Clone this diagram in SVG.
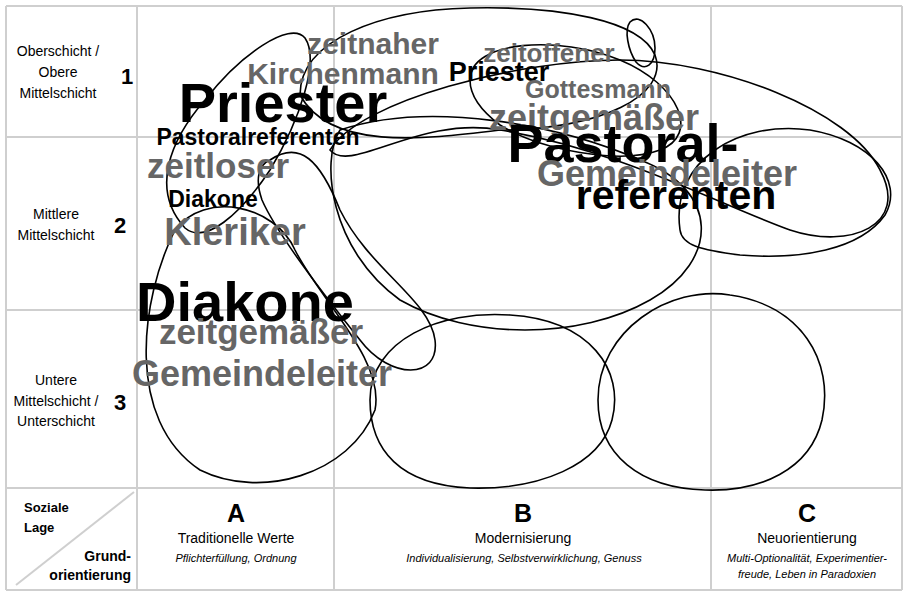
<svg xmlns="http://www.w3.org/2000/svg" width="908" height="594" viewBox="0 0 908 594">
<style>
.g{stroke:#cfcfcf;stroke-width:2;fill:none}
.b{fill:none;stroke:#000;stroke-width:1.6}
text{font-family:"Liberation Sans",Arial,sans-serif;font-weight:bold}
.k{fill:#000}.d{fill:#666}
.n{font-weight:normal;fill:#000}
.i{font-weight:normal;font-style:italic;fill:#000;font-size:11px}
</style>
<rect width="908" height="594" fill="#fff"/>
<g id="grid">
<path class="g" d="M6 6H902M6 137H137M6 310H137M6 488H902M6 590H902M6 6V590M137 6V590M334 488V590M711 488V590M902 6V590M137 137H334M137 310H334"/>
<path class="g" d="M334 6V488M711 6V488M334 137H902M334 310H902" stroke="#e6e6e6"/>
<path class="g" d="M16 585L134 492"/>
</g>
<g id="connectors">
<path class="b" d="M185 228C150 190 170 140 205 100C240 55 290 20 305 38C320 60 300 120 270 170C240 215 205 245 185 228Z"/>
<path class="b" d="M175 230C140 300 125 420 200 470C260 500 350 475 375 410C385 360 320 300 295 250C275 205 205 190 175 230Z"/>
<path class="b" d="M270 160C300 140 320 160 340 210C370 270 430 300 435 340C440 380 390 380 360 340C320 290 275 230 262 200C255 180 258 165 270 160Z"/>
<path class="b" d="M340 130C320 160 330 250 400 300C470 340 580 340 650 300C720 260 720 190 640 160C560 125 430 100 340 130Z"/>
<path class="b" d="M300 95C300 40 380 10 470 8C560 6 640 20 655 55C670 95 600 130 500 130C420 140 330 150 300 95Z"/>
<path class="b" d="M470 80C470 40 560 35 620 60C680 85 700 135 660 150C620 165 540 150 500 125C480 110 470 95 470 80Z"/>
<path class="b" d="M330 150C360 100 520 60 620 60C720 60 850 110 880 170C910 225 850 250 790 230C720 205 620 150 500 130C420 115 350 175 330 150Z"/>
<path class="b" d="M680 230C670 160 740 120 810 130C870 140 905 180 885 215C860 250 800 260 740 255C700 250 682 245 680 230Z"/>
<path class="b" d="M370 400C370 340 440 310 510 315C590 320 625 370 612 420C600 465 540 490 470 488C400 485 370 450 370 400Z"/>
<path class="b" d="M598 400C598 330 670 285 730 295C800 305 835 360 822 420C810 470 760 492 705 490C640 488 598 455 598 400Z"/>
<path class="b" d="M630 22C640 12 655 30 655 48C655 65 645 72 636 62C628 50 624 30 630 22Z"/>
</g>
<g id="labels-left">
<text class="n" x="58" y="56" font-size="14" text-anchor="middle">Oberschicht /</text>
<text class="n" x="58" y="77" font-size="14" text-anchor="middle">Obere</text>
<text class="n" x="58" y="98" font-size="14" text-anchor="middle">Mittelschicht</text>
<text x="121" y="84" font-size="22">1</text>
<text class="n" x="56" y="219" font-size="14" text-anchor="middle">Mittlere</text>
<text class="n" x="56" y="240" font-size="14" text-anchor="middle">Mittelschicht</text>
<text x="114" y="233" font-size="22">2</text>
<text class="n" x="56" y="385" font-size="14" text-anchor="middle">Untere</text>
<text class="n" x="56" y="406" font-size="14" text-anchor="middle">Mittelschicht /</text>
<text class="n" x="56" y="426" font-size="14" text-anchor="middle">Unterschicht</text>
<text x="114" y="410" font-size="22">3</text>
</g>
<g id="labels-bottom">
<text x="24" y="512" font-size="13">Soziale</text>
<text x="24" y="532" font-size="13">Lage</text>
<text x="131" y="561" font-size="14" text-anchor="end">Grund-</text>
<text x="131" y="580" font-size="14" text-anchor="end">orientierung</text>
<text x="236" y="522" font-size="25" text-anchor="middle">A</text>
<text class="n" x="236" y="543" font-size="14" text-anchor="middle">Traditionelle Werte</text>
<text class="i" x="236" y="562" text-anchor="middle">Pflichterfüllung, Ordnung</text>
<text x="523" y="522" font-size="25" text-anchor="middle">B</text>
<text class="n" x="523" y="543" font-size="14" text-anchor="middle">Modernisierung</text>
<text class="i" x="524" y="562" text-anchor="middle">Individualisierung, Selbstverwirklichung, Genuss</text>
<text x="807" y="522" font-size="25" text-anchor="middle">C</text>
<text class="n" x="807" y="543" font-size="14" text-anchor="middle">Neuorientierung</text>
<text class="i" x="807" y="562" text-anchor="middle">Multi-Optionalität, Experimentier-</text>
<text class="i" x="807" y="578" text-anchor="middle">freude, Leben in Paradoxien</text>
</g>
<g id="words">
<text class="d" x="373" y="54" font-size="30" text-anchor="middle">zeitnaher</text>
<text class="d" x="343" y="84" font-size="30" text-anchor="middle">Kirchenmann</text>
<text class="k" x="499" y="81" font-size="27" text-anchor="middle">Priester</text>
<text class="d" x="549" y="62" font-size="26" text-anchor="middle">zeitoffener</text>
<text class="d" x="598" y="98" font-size="25" text-anchor="middle">Gottesmann</text>
<text class="d" x="594" y="130" font-size="36" text-anchor="middle">zeitgemäßer</text>
<text class="k" x="283" y="122" font-size="56" text-anchor="middle">Priester</text>
<text class="k" x="258" y="145" font-size="23" text-anchor="middle">Pastoralreferenten</text>
<text class="d" x="218" y="178" font-size="35" text-anchor="middle">zeitloser</text>
<text class="k" x="213" y="207" font-size="23" text-anchor="middle">Diakone</text>
<text class="d" x="235" y="245" font-size="38" text-anchor="middle">Kleriker</text>
<text class="k" x="623" y="162" font-size="54" text-anchor="middle">Pastoral-</text>
<text class="d" x="667" y="186" font-size="36" text-anchor="middle">Gemeindeleiter</text>
<text class="k" x="676" y="209" font-size="41" text-anchor="middle">referenten</text>
<text class="k" x="245" y="321" font-size="56" text-anchor="middle">Diakone</text>
<text class="d" x="261" y="344" font-size="35" text-anchor="middle">zeitgemäßer</text>
<text class="d" x="262" y="386" font-size="36" text-anchor="middle">Gemeindeleiter</text>
</g>
</svg>
